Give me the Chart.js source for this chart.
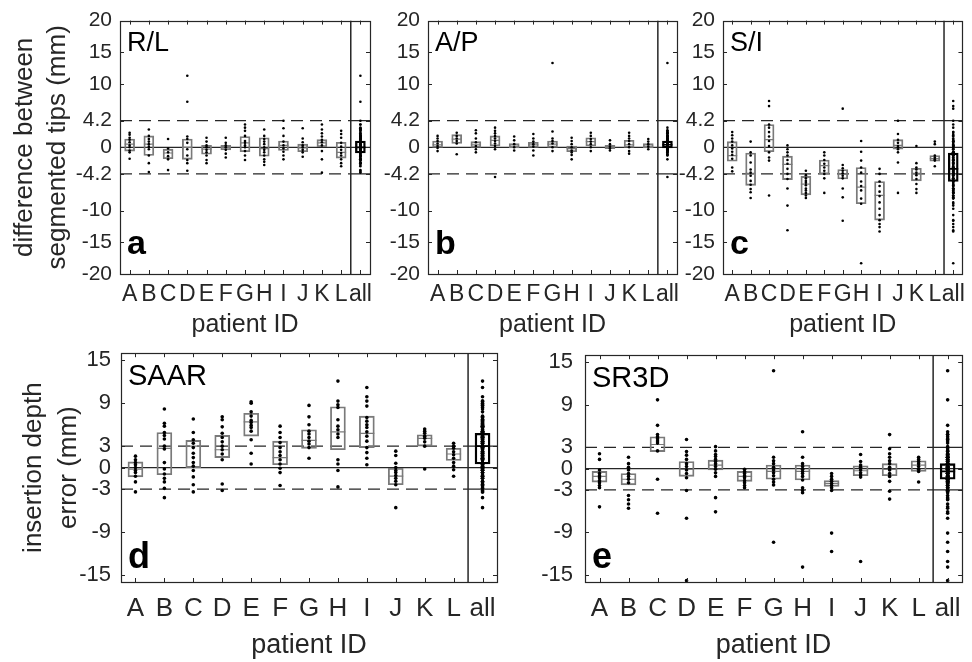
<!DOCTYPE html>
<html>
<head>
<meta charset="utf-8">
<script src="https://cdn.jsdelivr.net/npm/chart.js@4.4.1/dist/chart.umd.min.js"></script>
<style>
  html, body { margin: 0; padding: 0; background: #fff; }
  #fig { position: relative; width: 972px; height: 662px; overflow: hidden; }
  #fig canvas { position: absolute; }
</style>
</head>
<body>
<div id="fig">
  <canvas id="rl" width="382" height="340" style="left:0;top:0"></canvas>
  <canvas id="ap" width="382" height="340" style="left:308px;top:0"></canvas>
  <canvas id="si" width="369" height="340" style="left:603px;top:0"></canvas>
  <canvas id="saar" width="510" height="332" style="left:0;top:330px"></canvas>
  <canvas id="sr3d" width="492" height="332" style="left:480px;top:330px"></canvas>
</div>
<script>
const patients = ["A", "B", "C", "D", "E", "F", "G", "H", "I", "J", "K", "L", "all"];

const tipTicks = [-20, -15, -10, -4.2, 0, 4.2, 10, 15, 20];
const tipRange = [-20, 20];
const tipBand = [-4.2, 4.2];
const depthTicks = [-15, -9, -3, 0, 3, 9, 15];
const depthRange = [-16, 16];
const depthBand = [-3, 3];

// R/L difference between segmented tips, per patient (mm)
const rlPoints = [
  [2.3, 2.0, 1.5, 1.2, 0.8, 0.3, 0.0, -0.5, -0.8, -1.8],
  [2.8, 1.8, 1.3, 0.9, 0.5, 0.1, -0.3, -1.3, -2.5, -3.9],
  [1.3, -0.2, -0.8, -1.4, -1.9, -3.6],
  [11.3, 7.2, 1.7, 1.3, 0.7, -0.3, -1.3, -2.0, -2.5, -3.7],
  [1.5, 0.9, 0.3, 0.0, -0.4, -0.8, -1.3, -2.0, -2.5],
  [1.5, 0.7, 0.3, 0.0, -0.4, -1.0, -1.6],
  [3.6, 3.1, 2.6, 1.8, 1.0, 0.7, 0.3, 0.0, -0.6, -1.3, -2.0],
  [2.8, 1.8, 1.3, 0.9, 0.5, 0.0, -0.4, -0.8, -1.3, -1.9, -2.3, -2.8],
  [4.2, 3.0, 1.8, 0.9, 0.3, -0.2, -0.7, -1.3, -1.9],
  [3.0, 1.4, 0.8, 0.3, 0.0, -0.4, -0.8, -1.5],
  [3.6, 2.8, 2.2, 1.7, 1.2, 0.8, 0.3, -0.6, -1.9, -4.0],
  [2.6, 2.1, 1.5, 0.7, 0.1, -0.4, -0.9, -1.3, -1.9, -2.5, -3.0]
];
const rlLower  = [-0.6, -1.3, -1.8, -1.9, -1.1, -0.4, -0.7, -1.4, -0.5, -0.7, 0.1, -1.7, -0.9];
const rlMedian = [0.5, 0.5, -0.9, 0.0, -0.3, 0.0, 0.7, -0.2, 0.3, -0.1, 0.7, -0.8, 0.0];
const rlUpper  = [1.3, 1.8, -0.3, 1.3, 0.3, 0.3, 1.7, 1.5, 1.0, 0.5, 1.2, 0.8, 1.0];

// A/P
const apPoints = [
  [1.8, 1.4, 1.0, 0.6, 0.2, -0.1, -0.6],
  [2.3, 1.8, 1.4, 1.0, 0.6, -1.1],
  [2.7, 2.2, 1.4, 0.8, 0.2, -0.3, -0.8],
  [3.1, 2.6, 2.2, 1.8, 1.4, 1.0, 0.6, 0.2, -0.3, -4.7],
  [1.7, 1.1, 0.5, 0.0, -0.5],
  [2.1, 1.4, 0.9, 0.5, 0.1, -0.5, -1.3],
  [13.3, 2.5, 1.4, 1.0, 0.6, 0.0, -0.6],
  [1.5, 1.0, 0.5, 0.0, -0.5, -0.8, -1.2, -1.9],
  [2.3, 1.8, 1.3, 0.9, 0.5, 0.0, -0.6],
  [1.1, 0.5, 0.1, -0.2, -0.5],
  [2.3, 1.8, 1.4, 1.0, 0.5, 0.0, -0.6, -1.0],
  [1.3, 0.9, 0.5, 0.1, -0.3]
];
const apLower  = [0.0, 0.6, 0.0, 0.2, -0.1, 0.0, 0.0, -0.7, 0.2, -0.2, 0.0, -0.1, -0.1];
const apMedian = [0.4, 1.3, 0.4, 1.1, 0.2, 0.4, 0.5, -0.2, 0.9, 0.1, 0.4, 0.2, 0.4];
const apUpper  = [1.0, 2.0, 0.9, 1.8, 0.6, 0.8, 1.0, 0.2, 1.5, 0.3, 1.1, 0.6, 1.0];

// S/I
const siPoints = [
  [2.4, 1.9, 1.4, 0.9, 0.3, -0.2, -0.7, -1.2, -1.8, -3.2, -3.8],
  [0.9, -0.8, -1.3, -2.4, -3.5, -4.0, -4.5, -5.3, -5.9, -6.6, -7.1, -8.0],
  [7.3, 6.5, 3.6, 3.1, 2.4, 1.7, 1.0, 0.2, -0.8, -1.6, -2.1, -7.6],
  [0.3, -0.3, -0.8, -1.3, -2.0, -2.6, -3.4, -4.2, -5.0, -6.5, -9.2, -13.1],
  [-3.7, -4.4, -4.9, -5.3, -5.6, -6.0, -6.5, -6.8, -7.2, -7.6, -8.0],
  [-0.8, -1.3, -2.0, -2.6, -3.2, -3.7, -4.2, -4.9, -7.2],
  [6.1, -2.8, -3.3, -3.7, -4.1, -4.5, -4.9, -6.5, -7.9, -11.6],
  [1.0, -0.7, -2.1, -3.2, -4.0, -5.4, -6.1, -6.8, -8.1, -8.9, -18.3],
  [-3.4, -4.2, -5.4, -6.1, -7.0, -7.7, -8.7, -9.7, -10.7, -11.5, -12.1, -12.6, -13.3],
  [4.2, 2.1, 1.2, 0.7, 0.2, 0.0, -0.3, -0.8, -2.4, -7.2],
  [0.2, -2.5, -3.2, -3.5, -4.0, -4.4, -5.0, -5.8, -6.6, -7.2],
  [0.9, 0.5, -1.3, -1.6, -1.9, -2.1, -3.0]
];
const siLower  = [-2.2, -6.0, -0.7, -5.1, -7.5, -4.2, -5.0, -8.9, -11.5, -0.3, -5.3, -2.2, -5.4];
const siMedian = [-1.3, -4.1, 1.2, -2.7, -5.8, -2.9, -4.2, -6.3, -7.6, 0.3, -4.1, -1.8, -3.4];
const siUpper  = [0.9, -0.9, 3.6, -1.4, -4.6, -2.0, -3.5, -3.2, -5.4, 1.2, -3.3, -1.3, -0.9];

// insertion depth error, SAAR (mm)
const saarPoints = [
  [1.6, 1.1, 0.7, 0.4, 0.0, -0.4, -0.7, -1.2, -2.0, -3.4],
  [8.2, 6.2, 5.8, 4.9, 4.5, 4.0, 3.0, 2.6, 0.7, -0.2, -0.9, -1.5, -2.0, -2.9, -4.2],
  [6.8, 4.9, 3.9, 3.4, 2.8, 2.0, 1.4, 0.7, 0.2, -0.4, -1.3, -2.4, -3.4],
  [7.1, 6.7, 5.7, 4.8, 4.2, 3.6, 3.0, 2.5, 1.9, 1.1, -2.3, -3.2],
  [9.2, 9.0, 7.8, 7.2, 6.6, 6.3, 5.9, 5.6, 5.1, 3.9, 2.0, 0.5],
  [5.8, 4.9, 4.2, 3.5, 2.8, 2.2, 1.7, 1.1, 0.5, -0.1, -0.7, -2.5],
  [8.7, 7.1, 6.0, 5.1, 4.7, 4.2, 3.7, 3.3, 2.8, 1.3],
  [12.1, 9.3, 8.8, 8.4, 6.7, 5.8, 5.3, 4.7, 4.2, 1.1, 0.5, -0.4, -2.7],
  [11.2, 9.9, 9.3, 8.6, 7.0, 6.5, 6.0, 5.6, 5.0, 4.4, 3.7, 2.8, 2.1, 1.3, 0.4],
  [2.3, 1.7, 0.6, 0.0, -0.4, -0.7, -1.1, -1.5, -1.9, -2.4, -5.6],
  [5.4, 5.1, 4.8, 4.4, 4.1, 3.6, 3.0, -0.2],
  [3.4, 3.0, 2.7, 2.2, 1.8, 1.3, 0.7, 0.2, -0.3, -1.2]
];
const saarLower  = [-1.3, -1.0, 0.0, 1.4, 4.4, 0.4, 2.7, 2.5, 2.8, -2.4, 3.0, 1.0, 0.5];
const saarMedian = [-0.2, 2.7, 3.0, 2.5, 6.4, 1.4, 3.8, 5.0, 4.8, -1.2, 4.1, 1.9, 3.0];
const saarUpper  = [0.8, 4.9, 3.8, 4.5, 7.6, 3.7, 5.3, 8.5, 7.2, -0.1, 4.6, 2.7, 4.8];

// SR3D
const sr3dPoints = [
  [2.1, 1.3, -0.2, -0.7, -1.0, -1.3, -1.7, -2.0, -2.4, -2.7, -5.4],
  [1.6, 0.7, 0.2, -0.2, -0.7, -1.1, -1.5, -2.0, -3.8, -4.4, -5.0, -5.6],
  [9.7, 6.1, 4.8, 4.5, 4.2, 3.9, 3.6, 2.5, -1.5, -6.3],
  [4.1, 2.4, 1.9, 1.3, 0.7, 0.3, -0.2, -0.7, -1.3, -3.1, -7.0, -15.8],
  [3.1, 2.5, 2.0, 1.7, 1.3, 1.0, 0.7, 0.3, -0.1, -0.6, -1.1, -4.1, -6.1],
  [-0.1, -0.4, -0.7, -1.0, -1.3, -1.7, -2.0, -2.4, -2.7],
  [13.8, 1.6, 1.1, 0.7, 0.2, -0.2, -0.6, -1.0, -1.5, -1.9, -2.3, -10.4],
  [5.2, 1.6, 0.7, 0.3, -0.1, -0.4, -0.7, -1.1, -1.6, -2.7, -3.1, -3.4, -13.9],
  [-0.7, -1.1, -1.5, -1.8, -2.1, -2.4, -2.7, -3.1, -9.1, -11.7],
  [2.0, 1.0, 0.5, 0.2, -0.2, -0.6, -0.9, -1.2, -13.1],
  [4.8, 2.8, 2.1, 1.6, 1.1, 0.7, 0.2, -0.2, -0.7, -1.1, -1.8, -3.2, -4.3],
  [1.6, 1.3, 1.0, 0.7, 0.3, -0.1, -0.4, -1.9]
];
const sr3dLower  = [-1.9, -2.3, 2.4, -1.1, -0.2, -1.8, -1.5, -1.6, -2.5, -1.0, -1.0, -0.4, -1.5];
const sr3dMedian = [-1.1, -1.5, 3.4, -0.1, 0.5, -1.1, -0.4, -0.4, -2.1, -0.3, -0.1, 0.5, -0.4];
const sr3dUpper  = [-0.4, -0.7, 4.5, 1.0, 1.2, -0.4, 0.5, 0.5, -1.7, 0.4, 0.7, 1.1, 0.7];

const FONT = '"Liberation Sans", Arial, Helvetica, sans-serif';
const ink = "#262626";
const boxGray = "#7a7a7a";
Chart.defaults.font.family = FONT;
Chart.defaults.color = ink;

// box frame with inward tick marks on all four sides
const frameTicks = {
  id: "frameTicks",
  afterDatasetsDraw(chart, args, o) {
    const { ctx, chartArea: a, scales: { x, y } } = chart;
    const len = o.len || 4;
    ctx.save();
    ctx.strokeStyle = ink;
    ctx.lineWidth = 1;
    ctx.beginPath();
    x.ticks.forEach(t => {
      const px = Math.round(x.getPixelForValue(t.value)) + 0.5;
      ctx.moveTo(px, a.bottom); ctx.lineTo(px, a.bottom - len);
      ctx.moveTo(px, a.top); ctx.lineTo(px, a.top + len);
    });
    y.ticks.forEach(t => {
      const py = Math.round(y.getPixelForValue(t.value)) + 0.5;
      ctx.moveTo(a.left, py); ctx.lineTo(a.left + len, py);
      ctx.moveTo(a.right, py); ctx.lineTo(a.right - len, py);
    });
    ctx.stroke();
    ctx.lineWidth = 1.2;
    ctx.strokeRect(Math.round(a.left) + 0.5, Math.round(a.top) + 0.5, Math.round(a.width), Math.round(a.height));
    ctx.restore();
  }
};

// direction name in the upper left, panel letter in the lower left
const panelTags = {
  id: "panelTags",
  afterDraw(chart, args, o) {
    const { ctx, chartArea: a } = chart;
    ctx.save();
    ctx.fillStyle = "#000";
    ctx.textAlign = "left";
    ctx.textBaseline = "alphabetic";
    ctx.font = `${o.nameSize}px ${FONT}`;
    ctx.fillText(o.name, a.left + o.inset, a.top + o.nameDrop);
    ctx.font = `bold ${o.letterSize}px ${FONT}`;
    ctx.fillText(o.letter, a.left + o.inset, a.bottom - o.letterLift);
    ctx.restore();
  }
};

const topLook = {
  xh: 66, dot: 1.3, box: 10, yFont: 21, xFont: 23, xPad: 7, titleFont: 25,
  nameSize: 27, nameDrop: 30, letterSize: 34, letterLift: 20, inset: 7
};
const bottomLook = {
  xh: 80, dot: 1.8, box: 15, yFont: 22, xFont: 26, xPad: 11, titleFont: 27,
  nameSize: 29, nameDrop: 32, letterSize: 36, letterLift: 14, inset: 7
};

function makePanel(id, p) {
  const look = p.look;
  const n = patients.length;
  const sep = n - 0.5;
  const lo = 0.5, hi = n + 0.5;

  const dots = [];
  p.points.forEach((vals, i) => vals.forEach(v => dots.push({ x: i + 1, y: v })));
  p.points.forEach(vals => vals.forEach(v => dots.push({ x: n, y: v })));

  const boxColors = patients.map((_, i) => (i === n - 1 ? "#000" : boxGray));
  const boxWidths = patients.map((_, i) => (i === n - 1 ? 1.7 : 1.2));

  const ref = (pts, dash, width) => ({
    type: "line", data: pts, borderColor: ink, borderWidth: width || 1.3,
    borderDash: dash || [], pointRadius: 0, fill: false, tension: 0, order: 3
  });
  const [bLo, bHi] = p.band;

  new Chart(document.getElementById(id), {
    type: "scatter",
    data: {
      datasets: [
        {
          type: "scatter", data: dots, pointRadius: look.dot,
          pointBackgroundColor: "#000", pointBorderWidth: 0, order: 0
        },
        {
          type: "scatter",
          data: p.median.map((m, i) => ({ x: i + 1, y: m })),
          pointStyle: "line", pointRadius: look.box / 2,
          pointBorderColor: boxColors, pointBorderWidth: boxWidths, order: 1
        },
        {
          type: "bar",
          data: p.lower.map((l, i) => ({ x: i + 1, y: [l, p.upper[i]] })),
          barThickness: look.box, backgroundColor: "rgba(0,0,0,0)",
          borderColor: boxColors, borderWidth: boxWidths, borderSkipped: false, order: 2
        },
        ref([{ x: lo, y: 0 }, { x: hi, y: 0 }]),
        ref([{ x: lo, y: bHi }, { x: sep, y: bHi }], [12, 7]),
        ref([{ x: sep, y: bHi }, { x: hi, y: bHi }]),
        ref([{ x: lo, y: bLo }, { x: sep, y: bLo }], [12, 7]),
        ref([{ x: sep, y: bLo }, { x: hi, y: bLo }]),
        ref([{ x: sep, y: p.range[0] }, { x: sep, y: p.range[1] }], [], 1.5)
      ]
    },
    options: {
      responsive: false,
      animation: false,
      events: [],
      devicePixelRatio: 1,
      layout: { padding: p.pad },
      plugins: {
        legend: { display: false },
        tooltip: { enabled: false },
        frameTicks: { len: 4 },
        panelTags: {
          name: p.name, letter: p.letter, inset: look.inset,
          nameSize: look.nameSize, nameDrop: look.nameDrop,
          letterSize: look.letterSize, letterLift: look.letterLift
        }
      },
      scales: {
        x: {
          type: "linear", min: lo, max: hi, offset: false,
          afterBuildTicks: s => { s.ticks = patients.map((_, i) => ({ value: i + 1 })); },
          afterFit: s => { s.height = look.xh; },
          grid: { display: false, drawTicks: false, offset: false },
          border: { display: false },
          ticks: {
            autoSkip: false, maxRotation: 0, minRotation: 0, padding: look.xPad,
            font: { size: look.xFont }, color: ink,
            callback: v => patients[Math.round(v) - 1]
          },
          title: {
            display: true, text: "patient ID", color: ink,
            font: { size: look.titleFont, lineHeight: 1.2 }, padding: 0
          }
        },
        y: {
          type: "linear", min: p.range[0], max: p.range[1],
          afterBuildTicks: s => { s.ticks = p.ticks.map(v => ({ value: v })); },
          afterFit: s => { s.width = p.yw; },
          grid: { display: false, drawTicks: false },
          border: { display: false },
          ticks: { padding: p.yPad, font: { size: look.yFont }, color: ink, callback: v => String(v) },
          title: p.yTitle
            ? { display: true, text: p.yTitle, color: ink,
                font: { size: p.yTitleSize, lineHeight: p.yTitleLine }, padding: { top: p.yTitlePad, bottom: 0 } }
            : { display: false }
        }
      }
    },
    plugins: [frameTicks, panelTags]
  });
}

makePanel("rl", {
  look: topLook, points: rlPoints, lower: rlLower, median: rlMedian, upper: rlUpper,
  ticks: tipTicks, range: tipRange, band: tipBand, name: "R/L", letter: "a",
  yw: 120, yPad: 8, pad: { top: 19, right: 12, bottom: 0, left: 0 },
  yTitle: ["difference between", "segmented tips (mm)"], yTitleSize: 26, yTitleLine: 1.28, yTitlePad: 8
});
makePanel("ap", {
  look: topLook, points: apPoints, lower: apLower, median: apMedian, upper: apUpper,
  ticks: tipTicks, range: tipRange, band: tipBand, name: "A/P", letter: "b",
  yw: 120, yPad: 8, pad: { top: 19, right: 13, bottom: 0, left: 0 }
});
makePanel("si", {
  look: topLook, points: siPoints, lower: siLower, median: siMedian, upper: siUpper,
  ticks: tipTicks, range: tipRange, band: tipBand, name: "S/I", letter: "c",
  yw: 120, yPad: 8, pad: { top: 19, right: 2, bottom: 0, left: 0 }
});
makePanel("saar", {
  look: bottomLook, points: saarPoints, lower: saarLower, median: saarMedian, upper: saarUpper,
  ticks: depthTicks, range: depthRange, band: depthBand, name: "SAAR", letter: "d",
  yw: 121, yPad: 10, pad: { top: 21, right: 13, bottom: 0, left: 0 },
  yTitle: ["insertion depth", "error (mm)"], yTitleSize: 26, yTitleLine: 1.32, yTitlePad: 17
});
makePanel("sr3d", {
  look: bottomLook, points: sr3dPoints, lower: sr3dLower, median: sr3dMedian, upper: sr3dUpper,
  ticks: depthTicks, range: depthRange, band: depthBand, name: "SR3D", letter: "e",
  yw: 105, yPad: 12, pad: { top: 21, right: 7, bottom: 0, left: 0 }
});
</script>
</body>
</html>
